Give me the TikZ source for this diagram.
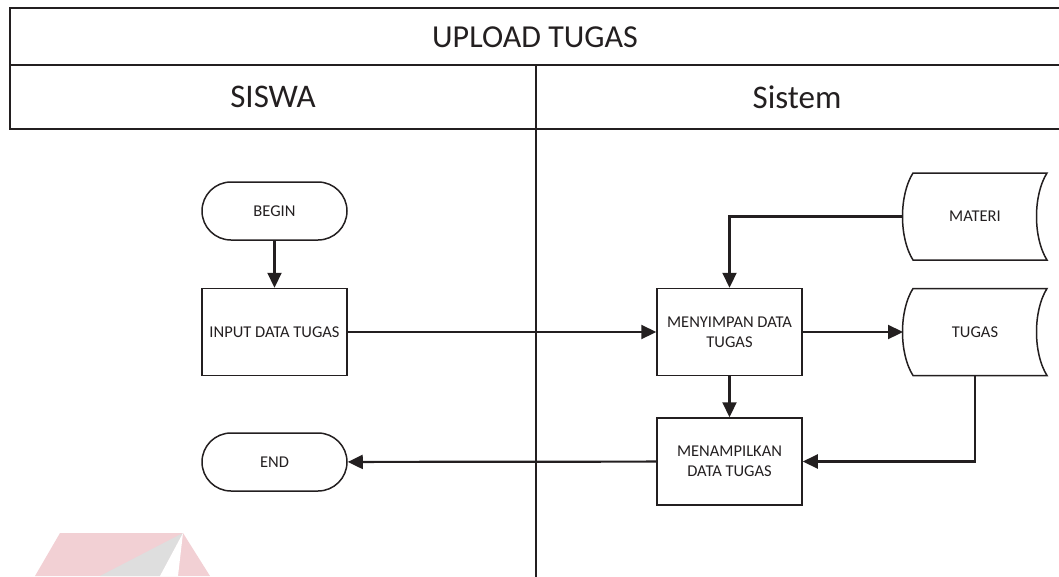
\documentclass[tikz,border=0pt]{standalone}
\usepackage{fontspec}
\setmainfont{Carlito}
\usetikzlibrary{arrows.meta,calc}
\definecolor{ink}{RGB}{35,31,32}
\definecolor{wmpink}{RGB}{242,208,212}
\definecolor{wmgrey}{RGB}{222,222,222}
\tikzset{
  frame/.style={draw=ink,line width=1.8pt},
  term/.style={draw=ink,line width=1.5pt,rectangle,rounded corners=29pt,minimum width=145pt,minimum height=58pt,font=\fontsize{16.5}{20}\selectfont,text=ink},
  proc/.style={draw=ink,line width=1.5pt,rectangle,minimum width=145pt,minimum height=87pt,align=center,font=\fontsize{16.5}{20}\selectfont,text=ink},
  store/.style={rectangle,minimum width=144pt,minimum height=87pt,inner sep=0pt,outer sep=0pt,font=\fontsize{16.5}{20}\selectfont,text=ink},
  conn/.style={draw=ink,line width=2.2pt,-{Triangle[length=15pt,width=14pt]}},
  hdr/.style={font=\fontsize{32}{36}\selectfont,text=ink}
}
\newcommand{\storeshape}[1]{%
  \draw[draw=ink,line width=1.5pt]
    ($(#1.north west)+(10,0)$) -- (#1.north east)
    .. controls ($(#1.north east)+(-14,22)$) and ($(#1.south east)+(-14,-22)$) .. (#1.south east)
    -- ($(#1.south west)+(10,0)$)
    .. controls ($(#1.south west)+(-4,-22)$) and ($(#1.north west)+(-4,22)$) .. cycle;}
\begin{document}
\begin{tikzpicture}[x=1pt,y=-1pt]
\useasboundingbox (0,0) rectangle (1059,576);
% watermark fragment
\fill[wmpink] (35,576) -- (60,533) -- (183,533) -- (210,576) -- cycle;
\fill[wmgrey] (183,533) -- (100,576) -- (160,576) -- cycle;
\fill[white] (183,533) -- (160,576) -- (178,576) -- cycle;
% frame
\draw[frame] (1060,8) -- (10,8) -- (10,129) -- (1060,129);
\draw[frame] (10,65) -- (1060,65);
\draw[draw=ink,line width=1.5pt] (536,65) -- (536,577);
\node[hdr] (title) at (535,37) {UPLOAD TUGAS};
\node[hdr,font=\fontsize{33}{36}\selectfont] (siswa) at (273,97) {SISWA};
\node[hdr,font=\fontsize{33}{36}\selectfont] (sistem) at (797,97) {Sistem};
% nodes
\node[term] (begin) at (274.5,211) {BEGIN};
\node[proc] (input) at (274.5,332) {INPUT DATA TUGAS};
\node[term] (end) at (274.5,462) {END};
\node[proc] (simpan) at (729.5,332) {MENYIMPAN DATA\\TUGAS};
\node[proc] (tampil) at (729.5,461.5) {MENAMPILKAN\\DATA TUGAS};
\node[store] (materi) at (975,216.5) {MATERI};
\node[store] (tugas) at (975,332) {TUGAS};
\storeshape{materi}
\storeshape{tugas}
% connectors
\draw[conn] (begin) -- (input);
\draw[conn] (input) -- (simpan);
\draw[conn] (materi.west) -| (simpan.north);
\draw[conn] (simpan) -- (tugas.west);
\draw[conn] (simpan) -- (tampil);
\draw[conn] (tugas.south) |- (tampil.east);
\draw[conn] (tampil) -- (end);
\end{tikzpicture}
\end{document}
